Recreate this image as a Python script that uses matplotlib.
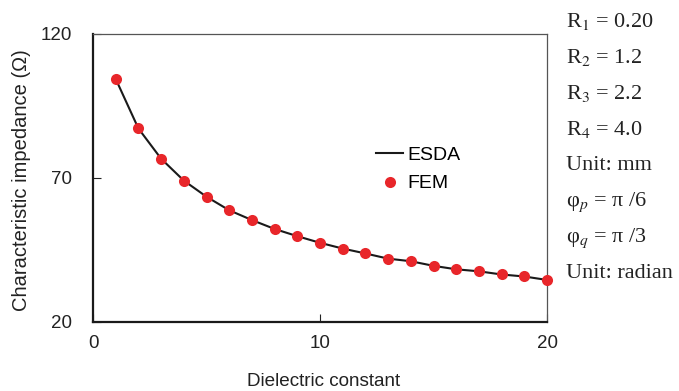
import matplotlib.pyplot as plt

plt.rcParams['font.family'] = ['Liberation Sans', 'DejaVu Sans']
plt.rcParams['mathtext.fontset'] = 'stix'

eps = list(range(1, 21))
esda = [104.4, 87.2, 76.7, 69.1, 63.5, 58.8, 55.4, 52.3, 49.8, 47.5,
        45.5, 43.8, 42.0, 41.1, 39.5, 38.3, 37.6, 36.5, 35.8, 34.6]
fem = [104.4, 87.2, 76.7, 69.1, 63.5, 58.8, 55.4, 52.3, 49.8, 47.5,
       45.5, 43.8, 42.0, 41.1, 39.5, 38.3, 37.6, 36.5, 35.8, 34.6]
notes = [r'R$_1$ = 0.20', r'R$_2$ = 1.2', r'R$_3$ = 2.2', r'R$_4$ = 4.0',
         'Unit: mm', r'φ$_{p}$ = π /6', r'φ$_{q}$ = π /3',
         'Unit: radian']

fig = plt.figure(figsize=(6.79, 3.91), dpi=100)
ax = fig.add_axes([93 / 679, 1 - 322 / 391, 454 / 679, 288 / 391])

ax.plot(eps, esda, color='#1a1a1a', lw=1.5, label='ESDA', zorder=2)
ax.plot(eps, fem, 'o', color='#e8262a', ms=8, mec='none', label='FEM', zorder=3,
        clip_on=False)

ax.set_xlim(0, 20)
ax.set_ylim(20, 120)
ax.set_xticks([0, 10, 20])
ax.set_yticks([20, 70, 120])
ax.tick_params(direction='in', length=6, labelsize=13.5, colors='#222222',
               width=0.8)
ax.tick_params(axis='y', pad=15)
ax.tick_params(axis='x', pad=9)
for s in ['left', 'bottom']:
    ax.spines[s].set_linewidth(1.6)
    ax.spines[s].set_color('#1a1a1a')
for s in ['top', 'right']:
    ax.spines[s].set_linewidth(0.9)
    ax.spines[s].set_color('#555555')

fig.text(324 / 679, 1 - 382 / 391, 'Dielectric constant', fontsize=13.6,
         color='#222222', ha='center', va='center')
fig.text(22 / 679, 1 - 180 / 391, 'Characteristic impedance (Ω)', fontsize=14.5,
         color='#222222', ha='center', va='center', rotation=90)

ax.legend(loc='upper left', bbox_to_anchor=(0.585, 0.67), frameon=False,
          fontsize=14, handlelength=1.4, handletextpad=0.2, labelspacing=0.55)

for i, t in enumerate(notes):
    fig.text(566 / 679, 1 - (22 + 36 * i) / 391, t, fontsize=16,
             family='Liberation Serif', color='#222222', va='center')

fig.savefig('out.png', dpi=100)
